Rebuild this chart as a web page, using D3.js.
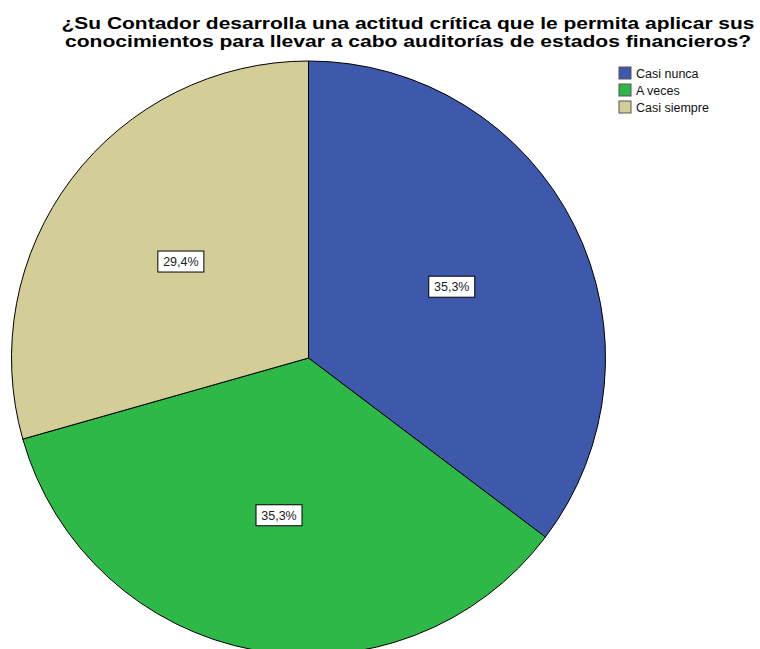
<!DOCTYPE html>
<html>
<head>
<meta charset="utf-8">
<script src="https://cdn.jsdelivr.net/npm/d3@7"></script>
<style>
  body { margin: 0; background: #fff; }
  svg { display: block; font-family: "Liberation Sans", Arial, sans-serif; }
</style>
</head>
<body>
<div id="chart"></div>
<script>
// data
let categories = ['Casi nunca', 'A veces', 'Casi siempre'];
let percents = [35.3, 35.3, 29.4];
let colors = ['#3e58ac', '#2eb848', '#d3ce97'];
let titleLines = [
  '¿Su Contador desarrolla una actitud crítica que le permita aplicar sus',
  'conocimientos para llevar a cabo auditorías de estados financieros?'
];

let width = 760, height = 649;
let cx = 308.5, cy = 358, radius = 297;

let svg = d3.select('#chart')
  .append('svg')
  .attr('width', width)
  .attr('height', height);

let data = categories.map((c, i) => ({ key: c, value: percents[i], color: colors[i] }));

let pie = d3.pie()
  .sort(null)
  .value(d => d.value);

let arc = d3.arc()
  .innerRadius(0)
  .outerRadius(radius);

let labelArc = d3.arc()
  .innerRadius(160)
  .outerRadius(160);

let pieG = svg.append('g')
  .attr('transform', `translate(${cx}, ${cy})`);

let arcs = pie(data);

pieG.selectAll('path')
  .data(arcs)
  .join('path')
  .attr('d', arc)
  .attr('fill', d => d.data.color)
  .attr('stroke', '#000')
  .attr('stroke-width', 1);

// value labels in white boxes
let labels = pieG.selectAll('.lab')
  .data(arcs)
  .join('g')
  .attr('class', 'lab')
  .attr('transform', d => `translate(${labelArc.centroid(d)})`);

labels.append('rect')
  .attr('x', -23)
  .attr('y', -10.5)
  .attr('width', 46)
  .attr('height', 21)
  .attr('fill', '#fff')
  .attr('stroke', '#000')
  .attr('stroke-width', 1);

labels.append('text')
  .attr('text-anchor', 'middle')
  .attr('dy', '0.36em')
  .style('font-size', '12.5px')
  .attr('fill', '#222')
  .text(d => d3.format('.1f')(d.data.value).replace('.', ',') + '%');

// title, two bold lines
let targetWidths = [693, 686];
svg.append('g')
  .attr('class', 'title')
  .selectAll('text')
  .data(titleLines)
  .join('text')
  .attr('x', 408)
  .attr('y', (d, i) => 29 + i * 18)
  .attr('text-anchor', 'middle')
  .attr('textLength', (d, i) => targetWidths[i])
  .attr('lengthAdjust', 'spacingAndGlyphs')
  .style('font-size', '17px')
  .style('font-weight', 'bold')
  .attr('fill', '#000')
  .text(d => d);

// legend
let legend = svg.append('g')
  .attr('transform', 'translate(619, 67)');

let rows = legend.selectAll('g')
  .data(data)
  .join('g')
  .attr('transform', (d, i) => `translate(0, ${i * 17})`);

rows.append('rect')
  .attr('width', 12)
  .attr('height', 12)
  .attr('fill', d => d.color)
  .attr('stroke', '#555')
  .attr('stroke-width', 1);

rows.append('text')
  .attr('x', 17)
  .attr('y', 11)
  .style('font-size', '12.5px')
  .attr('fill', '#111')
  .text(d => d.key);
</script>
</body>
</html>
